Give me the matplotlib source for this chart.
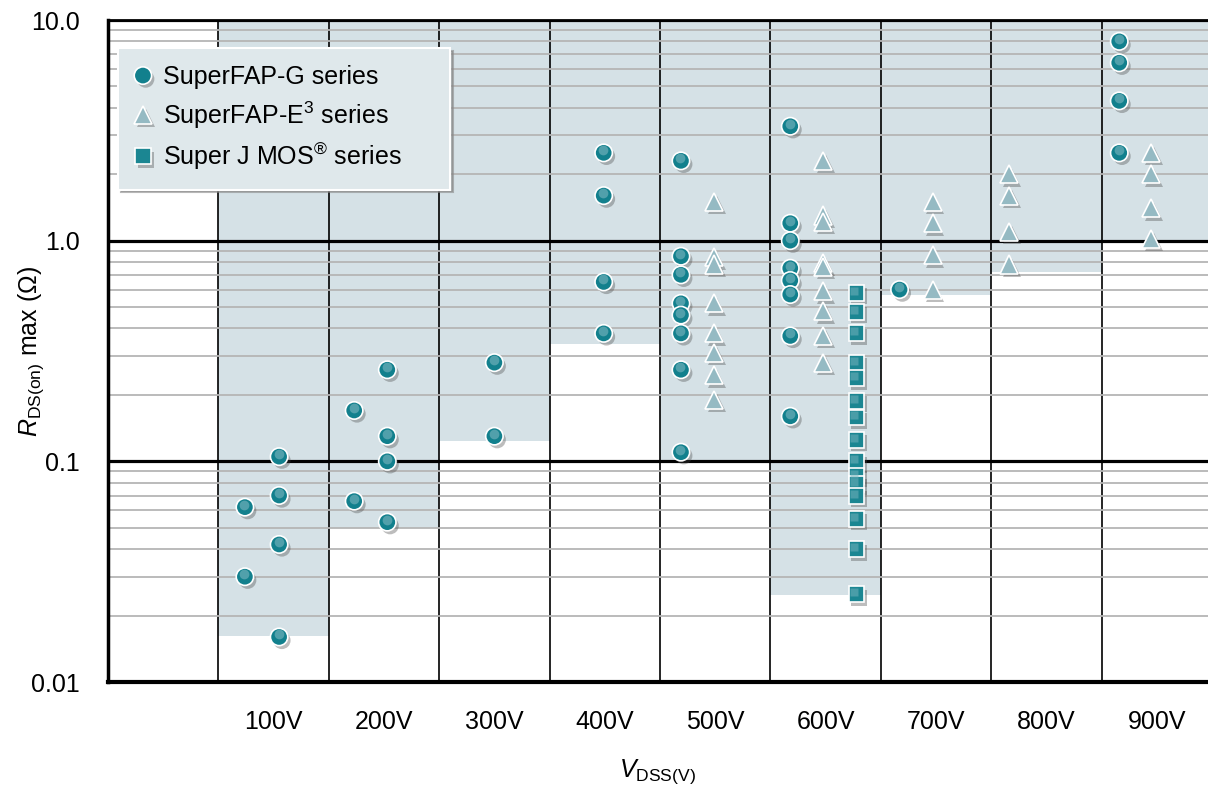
import matplotlib
matplotlib.use('Agg')
import matplotlib.pyplot as plt
import matplotlib.patheffects as pe
from matplotlib.transforms import offset_copy
from matplotlib.ticker import FixedLocator, LogLocator, NullFormatter

plt.rcParams['font.family'] = ['Liberation Sans', 'DejaVu Sans']
plt.rcParams['mathtext.fontset'] = 'custom'
plt.rcParams['mathtext.rm'] = 'Liberation Sans'
plt.rcParams['mathtext.it'] = 'Liberation Sans:italic'
plt.rcParams['mathtext.bf'] = 'Liberation Sans:bold'

# voltage classes (x axis, one 100 V wide column each)
voltages = [100, 200, 300, 400, 500, 600, 700, 800, 900]
volt_labels = ['100V', '200V', '300V', '400V', '500V', '600V', '700V', '800V', '900V']
# lower edge of the shaded range per voltage class (top is 10 ohm)
range_low = [0.0162, 0.050, 0.124, 0.340, 0.100, 0.0248, 0.567, 0.724, 0.98]

# SuperFAP-G series
g_x = [124, 124, 155, 155, 155, 155,
       223, 223, 253, 253, 253, 253,
       350, 350,
       449, 449, 449, 449,
       519, 519, 519, 519, 519, 519, 519, 519,
       618, 618, 618, 618, 618, 618, 618, 618,
       717,
       916, 916, 916, 916]
g_y = [0.062, 0.030, 0.105, 0.070, 0.042, 0.016,
       0.17, 0.066, 0.26, 0.13, 0.10, 0.053,
       0.28, 0.13,
       2.5, 1.6, 0.65, 0.38,
       2.3, 0.85, 0.70, 0.52, 0.46, 0.38, 0.26, 0.11,
       3.3, 1.2, 1.0, 0.75, 0.66, 0.57, 0.37, 0.16,
       0.60,
       8.0, 6.4, 4.3, 2.5]

# SuperFAP-E3 series
e_x = [549, 549, 549, 549, 549, 549, 549, 549,
       648, 648, 648, 648, 648, 648, 648, 648, 648,
       747, 747, 747, 747,
       816, 816, 816, 816,
       945, 945, 945, 945]
e_y = [1.5, 0.84, 0.78, 0.52, 0.38, 0.31, 0.245, 0.19,
       2.3, 1.3, 1.22, 0.79, 0.76, 0.59, 0.48, 0.37, 0.28,
       1.5, 1.2, 0.86, 0.60,
       2.0, 1.6, 1.1, 0.78,
       2.5, 2.0, 1.4, 1.02]

# Super J MOS series
j_x = [678] * 15
j_y = [0.58, 0.475, 0.38, 0.28, 0.238, 0.188, 0.158, 0.125, 0.10,
       0.086, 0.079, 0.070, 0.055, 0.040, 0.025]

fig = plt.figure(figsize=(12.08, 7.87), dpi=100)
ax = fig.add_axes([108 / 1208, 105 / 787, 1100 / 1208, 662 / 787])
ax.set_yscale('log')
ax.set_ylim(0.01, 10)
ax.set_xlim(0, 996.4)

# shaded ranges
ax.bar(voltages, [10 - b for b in range_low], bottom=range_low, width=100,
       align='edge', color='#d5e1e6', zorder=1)

# grid
ax.set_axisbelow(False)
ax.yaxis.set_major_locator(FixedLocator([0.01, 0.1, 1, 10]))
ax.set_yticklabels(['0.01', '0.1', '1.0', '10.0'])
ax.yaxis.set_minor_locator(LogLocator(base=10, subs=range(2, 10)))
ax.yaxis.set_minor_formatter(NullFormatter())
ax.grid(which='minor', axis='y', color='#b5b5b5', lw=1.3, zorder=2)
ax.grid(which='major', axis='y', color='black', lw=2.3, zorder=2.2)
ax.set_xticks(voltages)
ax.set_xticklabels([])
ax.set_xticks([v + 50 for v in voltages], minor=True)
ax.set_xticklabels(volt_labels, minor=True)
ax.grid(which='major', axis='x', color='black', lw=1.2, zorder=2.2)
ax.tick_params(axis='both', which='both', length=0, labelsize=18)
ax.tick_params(axis='x', which='minor', pad=20)
ax.tick_params(axis='y', which='both', pad=20)

for side in ['left', 'bottom', 'top']:
    ax.spines[side].set_color('black')
    ax.spines[side].set_zorder(4)
ax.spines['left'].set_linewidth(2.5)
ax.spines['bottom'].set_linewidth(3)
ax.spines['top'].set_linewidth(2)
ax.spines['right'].set_visible(False)

shadow = [pe.SimplePatchShadow(offset=(2, -2.5), shadow_rgbFace='#444444', alpha=0.35),
          pe.Normal()]
hl = offset_copy(ax.transData, fig=fig, x=-0.5, y=2.5, units='dots')

# SuperFAP-G
ax.plot(g_x, g_y, 'o', ms=12.5, mfc='#12808d', mec='white', mew=1.2,
        zorder=5, path_effects=shadow, label='SuperFAP-G series')
ax.plot(g_x, g_y, 'o', ms=7, mfc='#86bcc4', mec='none', alpha=0.55,
        zorder=5.1, transform=hl)

# SuperFAP-E3
ax.plot(e_x, e_y, '^', ms=13, mfc='#95bac3', mec='white', mew=1.2,
        zorder=5, path_effects=shadow, label='SuperFAP-E$^3$ series')

# Super J MOS
ax.plot(j_x, j_y, 's', ms=11.5, mfc='#1b8692', mec='white', mew=1.2,
        zorder=5, path_effects=shadow, label='Super J MOS$^{®}$ series')
ax.plot(j_x, j_y, 's', ms=6, mfc='#7ab5be', mec='none', alpha=0.5,
        zorder=5.1, transform=offset_copy(ax.transData, fig=fig, x=-2, y=2, units='dots'))

ax.set_ylabel(r'$\mathit{R}_{\mathrm{DS(on)}}$ max ($\Omega$)', fontsize=18)
ax.yaxis.set_label_coords(-0.056, 0.5)
ax.set_xlabel(r'$\mathit{V}_{\mathrm{DSS(V)}}$', fontsize=18)
ax.xaxis.set_label_coords(0.5, -0.114)

leg = ax.legend(loc='upper left', bbox_to_anchor=(0.009, 0.5, 0.302, 0.458),
                mode='expand', fontsize=18,
                frameon=True, fancybox=False, shadow={'color': '#888888', 'alpha': 0.6},
                facecolor='#dfe8eb', edgecolor='white', framealpha=1,
                borderpad=0.7, labelspacing=0.4, handletextpad=0.5,
                handlelength=0.6, borderaxespad=0)
leg.get_frame().set_linewidth(1.5)
leg.set_zorder(6)

fig.savefig('out.png', dpi=100)
